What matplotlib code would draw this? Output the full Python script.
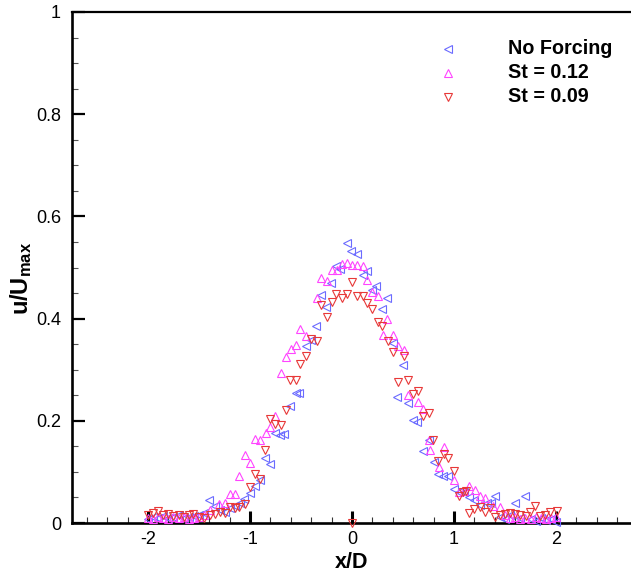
import matplotlib
matplotlib.use("Agg")
import matplotlib.pyplot as plt
from matplotlib.lines import Line2D
from matplotlib.ticker import MultipleLocator

plt.rcParams['font.family'] = ['Liberation Sans', 'DejaVu Sans']
plt.rcParams['mathtext.fontset'] = 'custom'
plt.rcParams['mathtext.rm'] = 'Liberation Sans'
plt.rcParams['mathtext.bf'] = 'Liberation Sans:bold'

# ---- data ----
nf_x = [-2.0, -1.95, -1.9, -1.85, -1.8, -1.75, -1.7, -1.65, -1.6, -1.55,
        -1.5, -1.45, -1.40, -1.34, -1.29, -1.245, -1.20, -1.15, -1.10, -1.06,
        -1.0, -0.95, -0.90, -0.85, -0.80, -0.755, -0.705, -0.665, -0.61, -0.55,
        -0.515, -0.45, -0.40, -0.355, -0.305, -0.255, -0.205, -0.155, -0.12, -0.05,
        -0.01, 0.045, 0.105, 0.145, 0.20, 0.24, 0.295, 0.34, 0.405, 0.44,
        0.495, 0.55, 0.60, 0.64, 0.70, 0.75, 0.80, 0.845, 0.895, 0.945,
        1.0, 1.05, 1.10, 1.15, 1.20, 1.25, 1.32, 1.36, 1.40, 1.45,
        1.50, 1.55, 1.60, 1.65, 1.70, 1.75, 1.80, 1.85, 1.90, 1.95,
        2.0]
nf_y = [0.008, 0.012, 0.010, 0.014, 0.010, 0.012, 0.015, 0.010, 0.012, 0.014,
        0.016, 0.020, 0.045, 0.033, 0.025, 0.022, 0.029, 0.033, 0.040, 0.046,
        0.059, 0.072, 0.085, 0.128, 0.115, 0.177, 0.172, 0.175, 0.229, 0.255,
        0.255, 0.346, 0.358, 0.385, 0.446, 0.422, 0.469, 0.502, 0.497, 0.548,
        0.533, 0.526, 0.485, 0.494, 0.456, 0.464, 0.419, 0.441, 0.352, 0.246,
        0.309, 0.234, 0.202, 0.198, 0.140, 0.162, 0.120, 0.096, 0.092, 0.091,
        0.066, 0.060, 0.060, 0.050, 0.045, 0.035, 0.040, 0.040, 0.052, 0.012,
        0.008, 0.015, 0.040, 0.010, 0.052, 0.008, 0.004, 0.010, 0.005, 0.008,
        0.002]

st12_x = [-2.0, -1.95, -1.9, -1.85, -1.8, -1.75, -1.7, -1.65, -1.6, -1.55,
          -1.5, -1.45, -1.39, -1.30, -1.25, -1.195, -1.145, -1.105, -1.05, -1.0,
          -0.95, -0.90, -0.845, -0.805, -0.755, -0.70, -0.65, -0.595, -0.55, -0.505,
          -0.45, -0.345, -0.305, -0.25, -0.20, -0.145, -0.10, -0.045, 0.0, 0.05,
          0.105, 0.145, 0.20, 0.25, 0.30, 0.345, 0.40, 0.45, 0.505, 0.55,
          0.65, 0.695, 0.755, 0.76, 0.85, 0.90, 1.0, 1.05, 1.10, 1.15,
          1.205, 1.25, 1.305, 1.385, 1.45, 1.5, 1.55, 1.6, 1.65, 1.7,
          1.75, 1.8, 1.85, 1.9, 1.95, 2.0]
st12_y = [0.010, 0.008, 0.012, 0.010, 0.008, 0.012, 0.010, 0.012, 0.008, 0.010,
          0.012, 0.015, 0.025, 0.037, 0.040, 0.056, 0.056, 0.092, 0.133, 0.118,
          0.164, 0.162, 0.176, 0.187, 0.209, 0.294, 0.324, 0.341, 0.349, 0.379,
          0.365, 0.441, 0.479, 0.474, 0.495, 0.495, 0.507, 0.509, 0.505, 0.505,
          0.502, 0.476, 0.453, 0.444, 0.367, 0.399, 0.367, 0.346, 0.339, 0.250,
          0.237, 0.224, 0.162, 0.143, 0.109, 0.149, 0.084, 0.060, 0.062, 0.072,
          0.065, 0.053, 0.048, 0.033, 0.032, 0.015, 0.010, 0.012, 0.008, 0.010,
          0.008, 0.012, 0.010, 0.008, 0.010, 0.012]

st09_x = [-2.0, -1.95, -1.9, -1.85, -1.8, -1.75, -1.7, -1.65, -1.6, -1.555,
          -1.5, -1.45, -1.39, -1.34, -1.29, -1.245, -1.195, -1.15, -1.105, -1.05,
          -1.0, -0.95, -0.90, -0.855, -0.805, -0.755, -0.70, -0.65, -0.61, -0.55,
          -0.505, -0.45, -0.40, -0.345, -0.305, -0.25, -0.20, -0.155, -0.10, -0.05,
          0.0, 0.05, 0.105, 0.145, 0.20, 0.25, 0.295, 0.35, 0.405, 0.45,
          0.505, 0.55, 0.60, 0.65, 0.70, 0.755, 0.795, 0.845, 0.90, 0.945,
          1.0, 1.05, 1.09, 1.12, 1.15, 1.195, 1.25, 1.305, 1.355, 1.40,
          1.45, 1.50, 1.55, 1.60, 1.65, 1.71, 1.745, 1.795, 1.845, 1.89,
          1.94, 2.005, 0.0]
st09_y = [0.016, 0.020, 0.024, 0.015, 0.018, 0.014, 0.016, 0.012, 0.015, 0.018,
          0.012, 0.010, 0.016, 0.018, 0.022, 0.020, 0.032, 0.030, 0.032, 0.037,
          0.071, 0.095, 0.087, 0.143, 0.203, 0.194, 0.192, 0.221, 0.279, 0.279,
          0.312, 0.327, 0.361, 0.357, 0.426, 0.404, 0.432, 0.448, 0.441, 0.448,
          0.472, 0.445, 0.445, 0.430, 0.418, 0.393, 0.385, 0.356, 0.334, 0.276,
          0.327, 0.280, 0.253, 0.258, 0.209, 0.216, 0.162, 0.122, 0.135, 0.127,
          0.102, 0.053, 0.061, 0.063, 0.019, 0.027, 0.031, 0.022, 0.030, 0.012,
          0.015, 0.018, 0.019, 0.018, 0.016, 0.014, 0.022, 0.034, 0.014, 0.016,
          0.022, 0.023, 0.0]

series_labels = ["No Forcing", "St = 0.12", "St = 0.09"]
colors = ["#6b6bff", "#ff44ff", "#e83838"]
markers = ["<", "^", "v"]

# ---- figure ----
W, H = 631, 578
fig = plt.figure(figsize=(W / 100, H / 100), dpi=100)
left_px, right_px, top_px, bottom_px = 72, 631, 12, 523
ax = fig.add_axes([left_px / W, 1 - bottom_px / H,
                   (right_px - left_px) / W, (bottom_px - top_px) / H])

for xs, ys, c, m in zip([nf_x, st12_x, st09_x], [nf_y, st12_y, st09_y], colors, markers):
    ax.plot(xs, ys, linestyle='none', marker=m, markersize=5.5,
            markerfacecolor='none', markeredgecolor=c, markeredgewidth=0.8,
            clip_on=False, zorder=3)

ax.set_xlim(-2.745, 2.735)
ax.set_ylim(0, 1)

ax.xaxis.set_minor_locator(MultipleLocator(0.2))
ax.yaxis.set_minor_locator(MultipleLocator(0.05))
ax.set_xticks([-2, -1, 0, 1, 2])
ax.set_xticklabels(['-2', '-1', '0', '1', '2'])
ax.set_yticks([0, 0.2, 0.4, 0.6, 0.8, 1.0])
ax.set_yticklabels(['0', '0.2', '0.4', '0.6', '0.8', '1'])

ax.tick_params(axis='x', which='major', direction='in', length=9, width=2.2,
               labelsize=13, pad=6, top=False)
ax.tick_params(axis='x', which='minor', direction='in', length=4.5, width=0.8,
               color='#333333', top=False)
ax.tick_params(axis='y', which='major', direction='in', length=9, width=1.6,
               labelsize=13, pad=8, right=False)
ax.tick_params(axis='y', which='minor', direction='in', length=4.5, width=0.8,
               color='#555555', right=False)

ax.spines['right'].set_visible(False)
ax.spines['left'].set_linewidth(1.9)
ax.spines['bottom'].set_linewidth(1.9)
ax.spines['top'].set_linewidth(1.6)

ax.set_xlabel('x/D', fontsize=15.5, fontweight='bold', labelpad=3)
ax.set_ylabel(r'$\mathbf{u/U_{max}}$', fontsize=17, va='center')
ax.yaxis.set_label_coords(-0.092, 0.478)

# legend (manual, matching Tecplot placement)
rows_y = [49, 73, 97]
for lab, c, m, ry in zip(series_labels, colors, markers, rows_y):
    fig.add_artist(Line2D([448 / W], [1 - ry / H], transform=fig.transFigure,
                          linestyle='none', marker=m, markersize=5.5,
                          markerfacecolor='none', markeredgecolor=c,
                          markeredgewidth=0.8))
    fig.text(508 / W, 1 - ry / H, lab, fontsize=14.2, fontweight='bold',
             va='center', ha='left')

fig.savefig('out.png', dpi=100)
